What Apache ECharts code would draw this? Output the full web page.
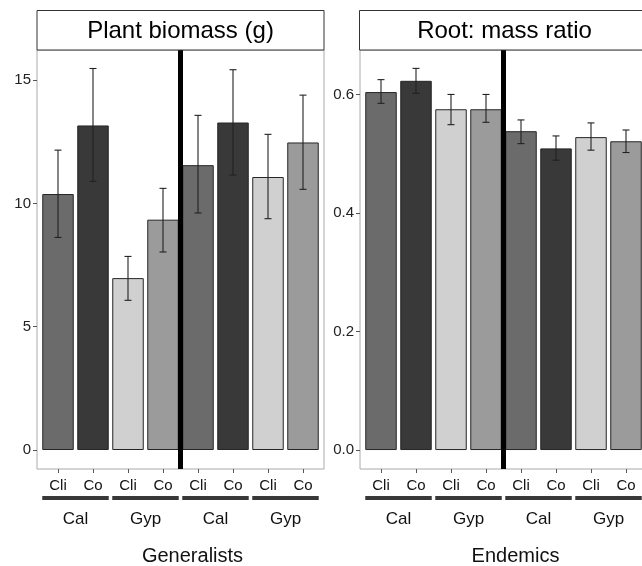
<!DOCTYPE html>
<html><head><meta charset="utf-8">
<script src="https://cdn.jsdelivr.net/npm/echarts@6/dist/echarts.min.js"></script>
<style>html,body{margin:0;padding:0;background:#fff}#c{width:642px;height:566px}</style>
</head><body><div id="c"></div>
<script>
const treatments = ['Cli','Co','Cli','Co','Cli','Co','Cli','Co'];
const soils = ['Cal','Cal','Gyp','Gyp','Cal','Cal','Gyp','Gyp'];
const panelTitles = ['Plant biomass (g)','Root: mass ratio'];
const groupTitles = ['Generalists','Endemics'];
const biomassMean = [10.38,13.16,6.97,9.34,11.55,13.28,11.07,12.47];
const biomassLow  = [8.62,10.89,6.07,8.03,9.61,11.15,9.38,10.57];
const biomassHigh = [12.16,15.47,7.85,10.61,13.57,15.42,12.80,14.39];
const ratioMean = [0.604,0.623,0.575,0.575,0.538,0.509,0.528,0.521];
const ratioLow  = [0.585,0.602,0.549,0.553,0.517,0.489,0.506,0.502];
const ratioHigh = [0.625,0.644,0.600,0.600,0.557,0.530,0.552,0.540];
const biomassTicks = [0,5,10,15];
const ratioTicks = [0,0.2,0.4,0.6];
const dividerAt = 3.5;

const FONT = 'Liberation Sans, Arial, sans-serif';
const fills = {CalCli:'#6b6b6b', CalCo:'#393939', GypCli:'#d0d0d0', GypCo:'#9b9b9b'};
const BAR_W = 31.5;
const idx = treatments.map((t,i)=>i);

const chart = echarts.init(document.getElementById('c'), null, {renderer:'canvas'});

function barSeries(g, means){
  return {
    type:'bar', xAxisIndex:g, yAxisIndex:g, barWidth:BAR_W, animation:false,
    data: means.map((v,i)=>({value:[i,v], itemStyle:{color:fills[soils[i]+treatments[i]]}})),
    itemStyle:{borderColor:'#262626', borderWidth:1},
    markLine:{silent:true, symbol:['none','none'], animation:false, label:{show:false},
      lineStyle:{color:'#000', width:5, type:'solid'}, emphasis:{disabled:true},
      data:[{xAxis:dividerAt}]}
  };
}
function errSeries(g, low, high){
  return {
    type:'custom', xAxisIndex:g, yAxisIndex:g, animation:false, z:5,
    data: idx.map(i=>[i, low[i], high[i]]),
    renderItem:function(params, api){
      const x = api.value(0);
      const p1 = api.coord([x, api.value(1)]);
      const p2 = api.coord([x, api.value(2)]);
      const c = 3.5;
      const st = {stroke:'#222', lineWidth:1.1};
      return {type:'group', children:[
        {type:'line', shape:{x1:p1[0],y1:p1[1],x2:p2[0],y2:p2[1]}, style:st},
        {type:'line', shape:{x1:p1[0]-c,y1:p1[1],x2:p1[0]+c,y2:p1[1]}, style:st},
        {type:'line', shape:{x1:p2[0]-c,y1:p2[1],x2:p2[0]+c,y2:p2[1]}, style:st}
      ]};
    }
  };
}
function groupSeries(g){
  const data = [];
  for(let i=0;i<soils.length;i+=2) data.push([i, i+1, 0]);
  return {
    type:'custom', xAxisIndex:g, yAxisIndex:g, animation:false, clip:false, silent:true,
    data: data,
    renderItem:function(params, api){
      const s = api.value(0), e = api.value(1);
      const x1 = api.coord([s,0])[0] - BAR_W/2;
      const x2 = api.coord([e,0])[0] + BAR_W/2;
      const yb = params.coordSys.y + params.coordSys.height;
      return {type:'group', children:[
        {type:'rect', shape:{x:x1, y:yb+27, width:x2-x1, height:4}, style:{fill:'#383838'}},
        {type:'text', x:(x1+x2)/2, y:yb+50, style:{text:soils[s], fill:'#111', font:'17px '+FONT, align:'center', verticalAlign:'middle'}}
      ]};
    }
  };
}
function xAxis(g){
  return {type:'value', gridIndex:g, min:-0.6, max:7.6,
    name: groupTitles[g], nameLocation:'middle', nameGap:77,
    nameTextStyle:{fontSize:20, color:'#111', fontFamily:FONT, padding:[0,0,0,24]},
    axisLine:{show:false, onZero:false}, splitLine:{show:false},
    axisTick:{show:true, customValues:idx, length:4, lineStyle:{color:'#555'}},
    axisLabel:{customValues:idx, fontSize:15, color:'#111', fontFamily:FONT, margin:9,
      formatter:(v)=>treatments[Math.round(v)]}
  };
}
function yAxis(g, mn, mx, ticks, fmt){
  return {type:'value', gridIndex:g, min:mn, max:mx,
    axisLine:{show:false, onZero:false}, splitLine:{show:false},
    axisTick:{show:true, customValues:ticks, length:4, lineStyle:{color:'#555'}},
    axisLabel:{customValues:ticks, fontSize:15, color:'#222', fontFamily:FONT, margin:6, formatter:fmt}
  };
}
function strip(x, w, text){
  return {type:'group', children:[
    {type:'rect', shape:{x:x, y:10.5, width:w, height:39.5}, style:{fill:'#fff', stroke:'#333', lineWidth:1}, z:10},
    {type:'text', x:x + w/2, y:31, style:{text:text, font:'24px '+FONT, fill:'#000', align:'center', verticalAlign:'middle'}, z:11}
  ]};
}

chart.setOption({
  animation:false,
  backgroundColor:'#fff',
  grid:[
    {left:37, top:50, width:287, height:419, show:true, borderColor:'#aaa', borderWidth:1, backgroundColor:'transparent', containLabel:false, outerBoundsMode:'none'},
    {left:360, top:50, width:287, height:419, show:true, borderColor:'#aaa', borderWidth:1, backgroundColor:'transparent', containLabel:false, outerBoundsMode:'none'}
  ],
  xAxis:[xAxis(0), xAxis(1)],
  yAxis:[
    yAxis(0, -0.77, 16.22, biomassTicks, v=>String(Math.round(v))),
    yAxis(1, -0.032, 0.675, ratioTicks, v=>v.toFixed(1))
  ],
  series:[
    barSeries(0, biomassMean), errSeries(0, biomassLow, biomassHigh), groupSeries(0),
    barSeries(1, ratioMean), errSeries(1, ratioLow, ratioHigh), groupSeries(1)
  ],
  graphic:[strip(37, 287, panelTitles[0]), strip(359.5, 290, panelTitles[1])]
});
</script></body></html>
